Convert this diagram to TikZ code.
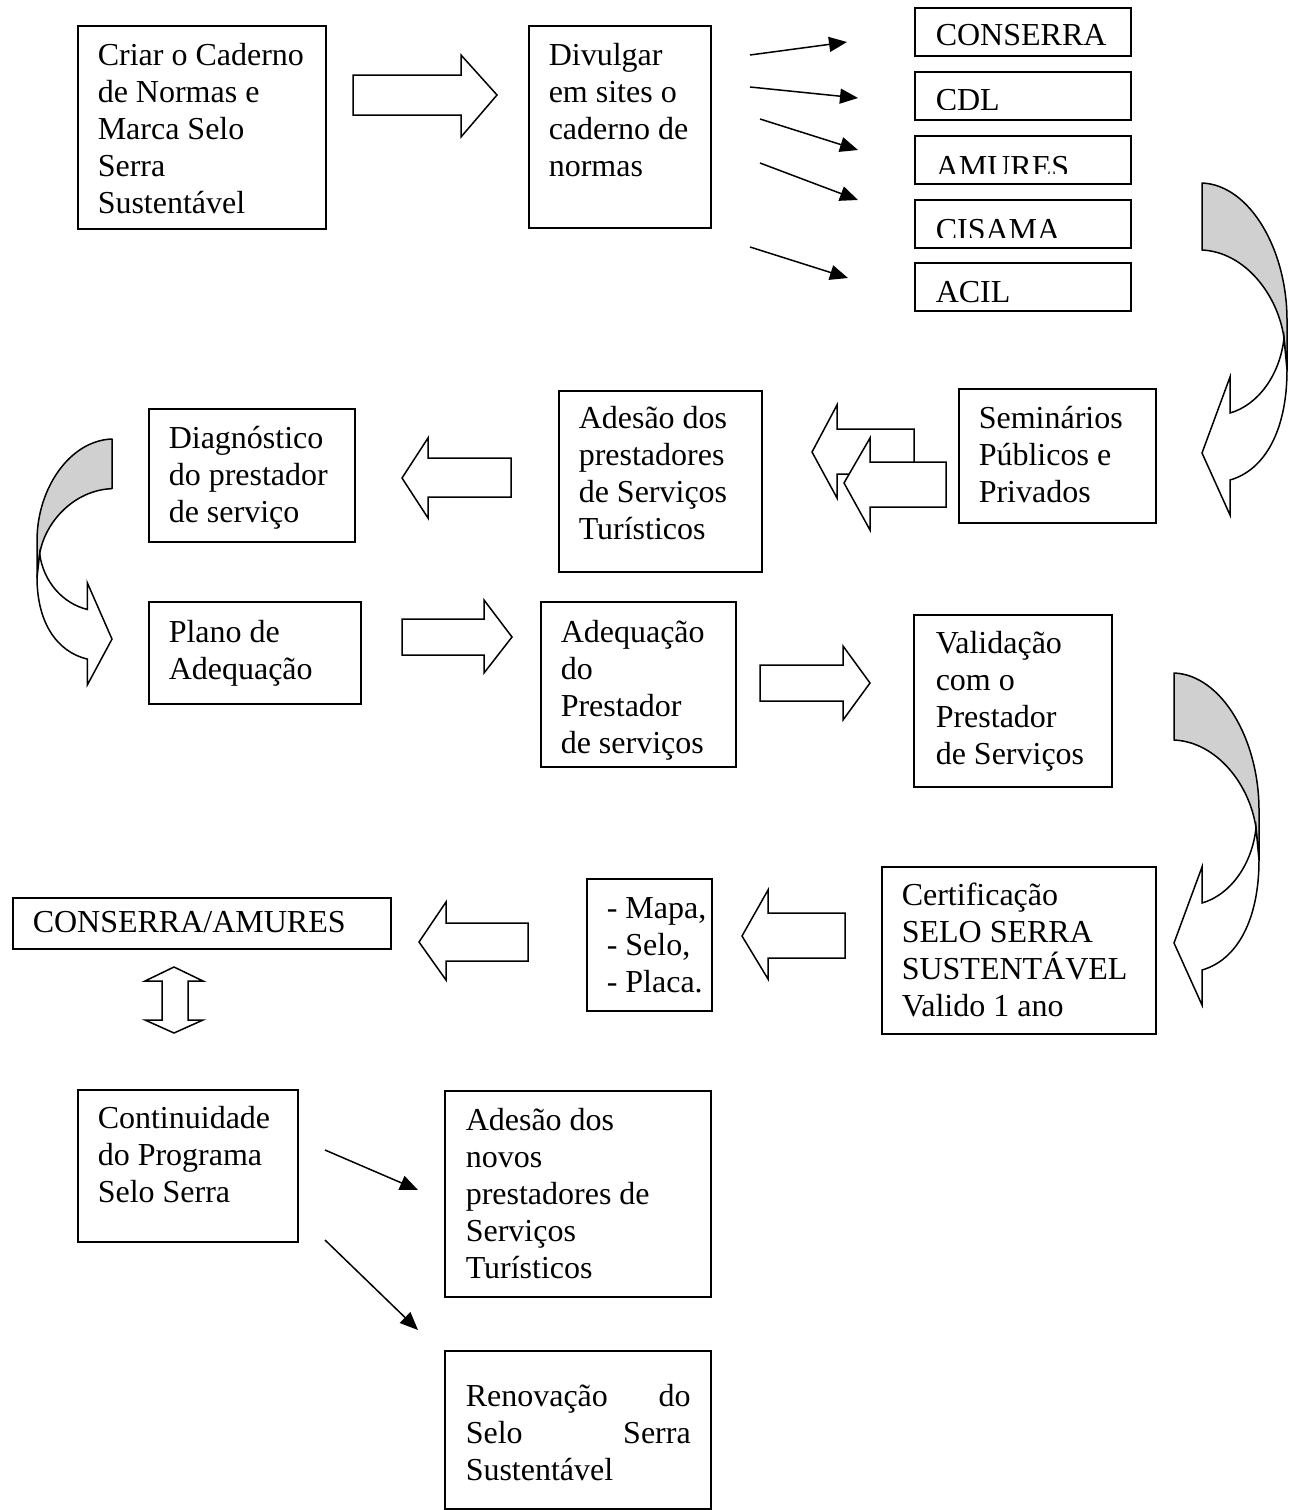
\documentclass[tikz,border=0pt]{standalone}
\usepackage{fontspec}
\setmainfont{Liberation Serif}
\usetikzlibrary{arrows.meta}
\definecolor{cgray}{RGB}{208,208,208}
\begin{document}
\begin{tikzpicture}[x=1pt,y=-1pt, line width=1.5pt,
  box/.style={draw, line width=1.5pt, inner sep=0pt, anchor=north west},
  txt/.style={font=\fontsize{32}{37}\selectfont, align=left, inner sep=0pt, anchor=north west},
  lbl/.style={font=\fontsize{32}{37}\selectfont, inner sep=0pt, anchor=base west},
  thinarrow/.style={line width=1.5pt, -{Triangle[length=18pt,width=15pt]}},
  blockarrow/.style={draw, fill=white, line width=1.5pt, line join=miter},
  curvarrow/.pic={
    \draw[fill=cgray, line join=round] (0,0) .. controls (48,2) and (85,67) .. (85,137) -- (85,187) -- (82,155) .. controls (76,112) and (43,69) .. (0,67) -- cycle;
    \draw[fill=white, line join=miter] (82,155) .. controls (78,192) and (56,222) .. (28,230) -- (28,194) -- (0,270) -- (28,332) -- (28,297) .. controls (63,287) and (85,247) .. (85,187) -- cycle;
  }]
\useasboundingbox (0,0) rectangle (1295,1510);

% ---- boxes ----
\node[box, minimum width=248pt, minimum height=203pt] (criar) at (77,25) {};
\node[txt] (criarT) at (97,39) {\strut Criar o Caderno\\de Normas e\\Marca Selo\\Serra\\Sustentável};

\node[box, minimum width=182pt, minimum height=202pt] (divulgar) at (528,25) {};
\node[txt] (divulgarT) at (548,39) {\strut Divulgar\\em sites o\\caderno de\\normas};

\node[box, minimum width=216pt, minimum height=48pt] (conserra) at (914,7) {};
\node[box, minimum width=216pt, minimum height=48pt] (cdl) at (914,71) {};
\node[box, minimum width=216pt, minimum height=48pt] (amures) at (914,135) {};
\node[box, minimum width=216pt, minimum height=48pt] (cisama) at (914,199) {};
\node[box, minimum width=216pt, minimum height=48pt] (acil) at (914,262) {};
\begin{scope}\clip (915,8) rectangle (1129,54);
\node[lbl] (conserraT) at (935,45) {CONSERRA};\end{scope}
\begin{scope}\clip (915,72) rectangle (1129,109);
\node[lbl] (cdlT) at (935,110) {CDL};\end{scope}
\begin{scope}\clip (915,136) rectangle (1129,173);
\node[lbl] (amuresT) at (935,177) {AMURES};\end{scope}
\begin{scope}\clip (915,200) rectangle (1129,237);
\node[lbl] (cisamaT) at (935,240) {CISAMA};\end{scope}
\begin{scope}\clip (915,263) rectangle (1129,302);
\node[lbl] (acilT) at (935,302) {ACIL};\end{scope}

\node[box, minimum width=197pt, minimum height=134pt] (seminarios) at (958,388) {};
\node[txt] (seminariosT) at (978,402) {\strut Seminários\\Públicos e\\Privados};

\node[box, minimum width=203pt, minimum height=181pt] (adesao) at (558,390) {};
\node[txt] (adesaoT) at (578,402) {\strut Adesão dos\\prestadores\\de Serviços\\Turísticos};

\node[box, minimum width=206pt, minimum height=133pt] (diag) at (148,408) {};
\node[txt] (diagT) at (168,422) {\strut Diagnóstico\\do prestador\\de serviço};

\node[box, minimum width=212pt, minimum height=102pt] (plano) at (148,601) {};
\node[txt] (planoT) at (168,616) {\strut Plano de\\Adequação};

\node[box, minimum width=195pt, minimum height=165pt] (adequacao) at (540,601) {};
\node[txt] (adequacaoT) at (560,616) {\strut Adequação\\do\\Prestador\\de serviços};

\node[box, minimum width=198pt, minimum height=172pt] (validacao) at (913,614) {};
\node[txt] (validacaoT) at (935,627) {\strut Validação\\com o\\Prestador\\de Serviços};

\node[box, minimum width=274pt, minimum height=167pt] (cert) at (881,866) {};
\node[txt] (certT) at (901,879) {\strut Certificação\\SELO SERRA\\SUSTENTÁVEL\\Valido 1 ano};

\node[box, minimum width=125pt, minimum height=132pt] (mapa) at (586,878) {};
\node[txt] (mapaT) at (606,892) {\strut - Mapa,\\- Selo,\\- Placa.};

\node[box, minimum width=378pt, minimum height=51pt] (consam) at (12,897) {};
\node[txt] (consamT) at (32,906) {\strut CONSERRA/AMURES};

\node[box, minimum width=220pt, minimum height=152pt] (contin) at (77,1089) {};
\node[txt] (continT) at (97,1102) {\strut Continuidade\\do Programa\\Selo Serra};

\node[box, minimum width=266pt, minimum height=206pt] (novos) at (444,1090) {};
\node[txt] (novosT) at (465,1104) {\strut Adesão dos\\novos\\prestadores de\\Serviços\\Turísticos};

\node[box, minimum width=266pt, minimum height=158pt] (renov) at (444,1350) {};
\node[txt, text width=225pt] (renovT) at (465,1380) {\strut Renovação\hfill do\\Selo\hfill Serra\\Sustentável};

% ---- thin arrows ----
\coordinate (t1a) at (750,55);  \coordinate (t1b) at (847,42);
\coordinate (t2a) at (750,87);  \coordinate (t2b) at (858,98);
\coordinate (t3a) at (760,119); \coordinate (t3b) at (858,150);
\coordinate (t4a) at (760,163); \coordinate (t4b) at (858,200);
\coordinate (t5a) at (750,247); \coordinate (t5b) at (848,278);
\coordinate (t6a) at (325,1150); \coordinate (t6b) at (418,1190);
\coordinate (t7a) at (325,1240); \coordinate (t7b) at (418,1330);
\foreach \i in {1,...,7} {\draw[thinarrow] (t\i a) -- (t\i b);}

% ---- block arrows ----
\draw[blockarrow] (353,75) -- (461,75) -- (461,55) -- (497,95) -- (461,137) -- (461,115) -- (353,115) -- cycle;
\draw[blockarrow] (511,458) -- (428,458) -- (428,438) -- (402,478) -- (428,518) -- (428,497) -- (511,497) -- cycle;
\draw[blockarrow] (402,619) -- (484,619) -- (484,600) -- (512,637) -- (484,673) -- (484,655) -- (402,655) -- cycle;
\draw[blockarrow] (760,665) -- (843,665) -- (843,646) -- (870,683) -- (843,720) -- (843,701) -- (760,701) -- cycle;
\draw[blockarrow] (528,923) -- (446,923) -- (446,902) -- (419,942) -- (446,980) -- (446,961) -- (528,961) -- cycle;
\draw[blockarrow] (845,913) -- (768,913) -- (768,890) -- (742,936) -- (768,979) -- (768,958) -- (845,958) -- cycle;
\draw[blockarrow] (914,429) -- (837,429) -- (837,405) -- (812,452) -- (837,498) -- (837,474) -- (914,474) -- cycle;
\draw[blockarrow] (946,462) -- (870,462) -- (870,438) -- (844,483) -- (870,530) -- (870,507) -- (946,507) -- cycle;
\draw[blockarrow] (174,967) -- (203,981) -- (188,981) -- (188,1020) -- (203,1020) -- (174,1033) -- (145,1020) -- (162,1020) -- (162,981) -- (145,981) -- cycle;

% ---- curved arrows ----
\pic at (1202,183) {curvarrow};
\pic at (1174,673) {curvarrow};
\pic[xscale=-0.882, yscale=0.741] at (112,439) {curvarrow};
\end{tikzpicture}
\end{document}
